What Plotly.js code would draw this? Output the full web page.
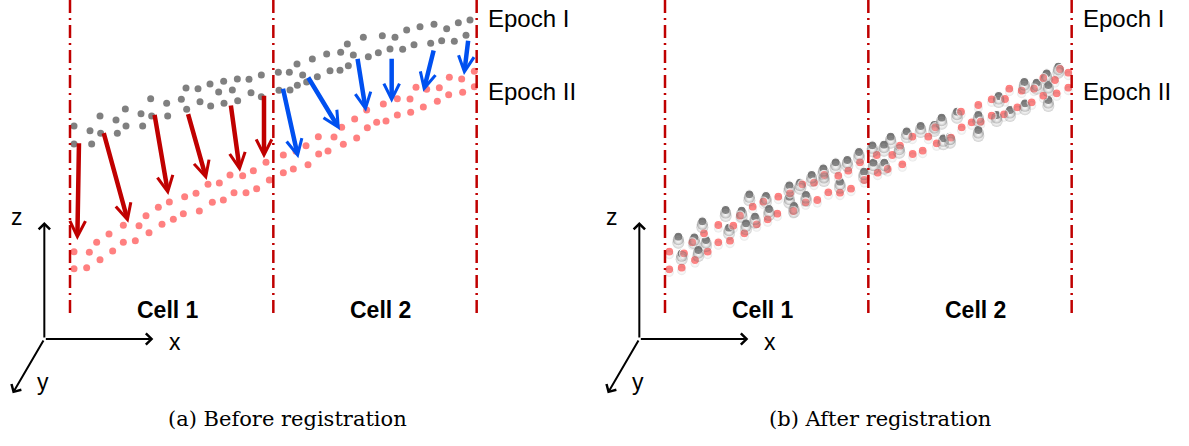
<!DOCTYPE html>
<html>
<head>
<meta charset="utf-8">
<script src="https://cdn.plot.ly/plotly-3.0.1.min.js"></script>
<style>html,body{margin:0;padding:0;background:#fff;}#chart{width:1189px;height:446px;}</style>
</head>
<body>
<div id="chart"></div>
<script>
// ---- data (x along track, z height; arbitrary units, one cell = 610) ----
const cellEdges = [0, 610, 1220];
const cellNames = ['Cell 1', 'Cell 2'];
const cellLabelX = [295, 931];
const epochNames = ['Epoch I', 'Epoch II'];
const epochLabelZ = [845, 627];
const captions = ['(a) Before registration', '(b) After registration'];

// (a) Before registration: Epoch I (grey) points
const beforeEpoch1X = [12,12,60,65,90,92,138,142,166,168,213,218,242,245,290,293,334,348,350,384,390,420,422,446,461,462,487,502,503,537,543,574,574,625,627,658,660,681,682,698,710,727,742,770,780,812,810,832,850,835,880,895,925,937,960,975,998,1010,1032,1050,1082,1092,1115,1130,1153,1165,1188,1200];
const beforeEpoch1Z = [522,468,508,468,552,500,540,500,573,522,559,522,604,552,590,552,602,636,572,634,595,648,582,624,656,590,630,663,598,662,622,675,610,683,629,683,630,708,644,675,654,723,670,738,688,743,689,768,735,703,788,730,742,793,753,788,752,810,766,820,770,827,778,814,776,832,794,840];
// (a) Before registration: Epoch II (pink) points
const beforeEpoch2X = [12,50,90,128,160,196,237,276,310,340,388,427,460,492,528,560,598,640,670,714,746,774,820,860,892,920,948,982,1022,1060,1102,1136,1178,1213,
  12,58,80,117,160,207,228,265,298,344,378,414,448,480,518,550,588,640,678,708,745,792,815,854,890,940,982,1020,1038,1070,1108,1138,1175,1213];
const beforeEpoch2Z = [94,97,121,147,173,178,202,227,242,259,267,293,300,322,322,334,360,382,393,406,438,447,467,486,517,533,537,555,563,579,596,616,623,640,
  145,143,173,198,224,223,253,278,294,310,320,347,351,375,373,388,413,435,446,463,490,489,518,543,570,588,604,603,638,632,637,668,663,686];
// displacement vectors (tail -> tip); cell index 1 or 2
const shiftTailX = [27,100,253,353,482,582,638,712,862,965,1092,1195];
const shiftTailZ = [475,505,560,562,588,617,638,672,728,728,753,782];
const shiftTipX  = [22,175,295,410,510,582,685,810,888,965,1060,1182];
const shiftTipZ  = [180,232,315,360,385,425,425,510,565,592,625,675];
const shiftCell  = [1,1,1,1,1,1,2,2,2,2,2,2];

// (b) After registration: Epoch I (grey) points
const afterEpoch1X = [40,50,88,100,112,123,182,192,230,243,253,270,303,312,373,373,387,405,423,440,475,477,512,525,547,582,597,622,657,625,658,677,703,725,767,808,830,835,876,855,940,940,1001,995,1035,1078,1080,1115,1145,1150,1180,1150];
const afterEpoch1Z = [190,140,188,150,236,180,270,217,268,230,317,250,312,273,344,310,282,352,315,375,395,375,413,355,420,444,385,464,466,412,412,490,460,506,522,525,547,485,565,490,555,510,612,555,570,654,590,652,680,600,700,645];
// (b) After registration: Epoch II (pink) points
const afterEpoch2X = [13,13,50,57,82,90,117,128,160,160,195,205,225,238,263,275,295,308,337,340,375,385,412,422,447,457,478,490,520,525,550,558,585,598,635,638,682,668,705,712,742,743,773,790,811,815,858,888,890,920,940,947,980,980,1020,1017,1033,1057,1070,1100,1107,1135,1135,1170,1175,1185,1210,1210];
const afterEpoch2Z = [145,92,97,140,173,120,200,145,225,173,178,223,253,200,280,227,295,242,259,310,320,267,347,293,352,300,375,323,373,322,388,334,413,360,435,382,435,393,463,407,490,438,448,490,518,470,487,565,518,533,585,535,602,553,603,557,634,578,628,593,634,666,613,660,620,693,682,637];

// ---- layout constants ----
const RED = '#c00000', BLUE = '#0050f0', GREY = '#7a7a7a', PINK = '#ff8080';
const panels = [{x: 'x', y: 'y'}, {x: 'x2', y: 'y2'}];
const captionX = [0.2422, 0.7401];
const zRange = [-438, 900];

const shadow = (dz, size, alpha) => ({x: afterEpoch1X, y: afterEpoch1Z, xaxis: 'x2', yaxis: dz, mode: 'markers', type: 'scatter',
   marker: {size: size, color: 'rgba(90,90,90,' + alpha + ')', gradient: {type: 'radial', color: 'rgba(255,255,255,0)'}}, hoverinfo: 'skip'});

const traces = [
  {x: beforeEpoch1X, y: beforeEpoch1Z, xaxis: 'x', yaxis: 'y', mode: 'markers', type: 'scatter',
   marker: {size: 7, color: '#808080'}, hoverinfo: 'skip'},
  {x: beforeEpoch2X, y: beforeEpoch2Z, xaxis: 'x', yaxis: 'y', mode: 'markers', type: 'scatter',
   marker: {size: 7, color: PINK}, hoverinfo: 'skip'},
  shadow('y4', 12, 0.3),
  shadow('y3', 11, 0.45),
  {x: afterEpoch2X, y: afterEpoch2Z, xaxis: 'x2', yaxis: 'y3', mode: 'markers', type: 'scatter',
   marker: {size: 9, color: 'rgba(90,90,90,0.15)', gradient: {type: 'radial', color: 'rgba(255,255,255,0)'}}, hoverinfo: 'skip'},
  {x: afterEpoch1X, y: afterEpoch1Z, xaxis: 'x2', yaxis: 'y2', mode: 'markers', type: 'scatter',
   marker: {size: 9, color: GREY, line: {color: '#ffffff', width: 1.2}}, hoverinfo: 'skip'},
  {x: afterEpoch2X, y: afterEpoch2Z, xaxis: 'x2', yaxis: 'y2', mode: 'markers', type: 'scatter',
   marker: {size: 9, color: PINK, line: {color: '#ffffff', width: 1.2}}, hoverinfo: 'skip'}
];

const shapes = [];
const annotations = [];
const textFont = {family: 'Liberation Sans, Arial, sans-serif', color: '#000'};

panels.forEach((p, pi) => {
  cellEdges.forEach(e => {
    shapes.push({type: 'line', xref: p.x, yref: p.y, x0: e, x1: e, y0: 900, y1: -48,
      line: {color: RED, width: 2.5, dash: '13px,5px,2px,5px'}});
  });
  cellNames.forEach((n, i) => {
    annotations.push({xref: p.x, yref: p.y, x: cellLabelX[i], y: -30, text: n, showarrow: false,
      xanchor: 'center', yanchor: 'middle', font: Object.assign({size: 23, weight: 'bold'}, textFont)});
  });
  epochNames.forEach((n, i) => {
    annotations.push({xref: p.x, yref: p.y, x: 1248, y: epochLabelZ[i], text: n, showarrow: false,
      xanchor: 'left', yanchor: 'middle', font: Object.assign({size: 24}, textFont)});
  });
  // coordinate system glyph
  const origin = [-77, -117];
  const tips = [[-77, 234], [250, -117], [-172, -280]];
  tips.forEach(t => {
    annotations.push({xref: p.x, yref: p.y, axref: p.x, ayref: p.y, x: t[0], y: t[1], ax: origin[0], ay: origin[1],
      text: '', showarrow: true, arrowhead: 4, arrowwidth: 2, arrowsize: 1.1, arrowcolor: '#000'});
  });
  [['z', -158, 250], ['x', 315, -126], ['y', -80, -246]].forEach(l => {
    annotations.push({xref: p.x, yref: p.y, x: l[1], y: l[2], text: l[0], showarrow: false,
      xanchor: 'center', yanchor: 'middle', font: Object.assign({size: 23}, textFont)});
  });
  annotations.push({xref: 'paper', yref: 'paper', x: captionX[pi], y: 0.06, text: captions[pi], showarrow: false,
    xanchor: 'center', yanchor: 'middle', font: {family: 'DejaVu Serif, serif', size: 21, color: '#000'}});
});

shiftTailX.forEach((tx, i) => {
  annotations.push({xref: 'x', yref: 'y', axref: 'x', ayref: 'y', x: shiftTipX[i], y: shiftTipZ[i],
    ax: tx, ay: shiftTailZ[i], text: '', showarrow: true, arrowhead: 5, arrowsize: 0.68, arrowwidth: 4.5,
    arrowcolor: shiftCell[i] === 1 ? RED : BLUE});
});

const hidden = {visible: false, showgrid: false, zeroline: false, fixedrange: true};
const layout = {
  width: 1189, height: 446, margin: {l: 0, r: 0, t: 0, b: 0},
  paper_bgcolor: '#ffffff', plot_bgcolor: 'rgba(0,0,0,0)', showlegend: false,
  xaxis: Object.assign({domain: [0, 0.5], range: [-210, 1573.5], anchor: 'y'}, hidden),
  yaxis: Object.assign({domain: [0, 1], range: zRange, anchor: 'x'}, hidden),
  xaxis2: Object.assign({domain: [0.5, 1], range: [-211.5, 1572], anchor: 'y2'}, hidden),
  yaxis2: Object.assign({domain: [0, 1], range: zRange, anchor: 'x2'}, hidden),
  // shadow layers: same z scale, drawn a few pixels lower
  yaxis3: Object.assign({domain: [0, 1], range: [zRange[0] + 9, zRange[1] + 9], overlaying: 'y2', anchor: 'x2'}, hidden),
  yaxis4: Object.assign({domain: [0, 1], range: [zRange[0] + 18, zRange[1] + 18], overlaying: 'y2', anchor: 'x2'}, hidden),
  shapes: shapes, annotations: annotations
};
Plotly.newPlot('chart', traces, layout, {staticPlot: true, displayModeBar: false});
</script>
</body>
</html>
